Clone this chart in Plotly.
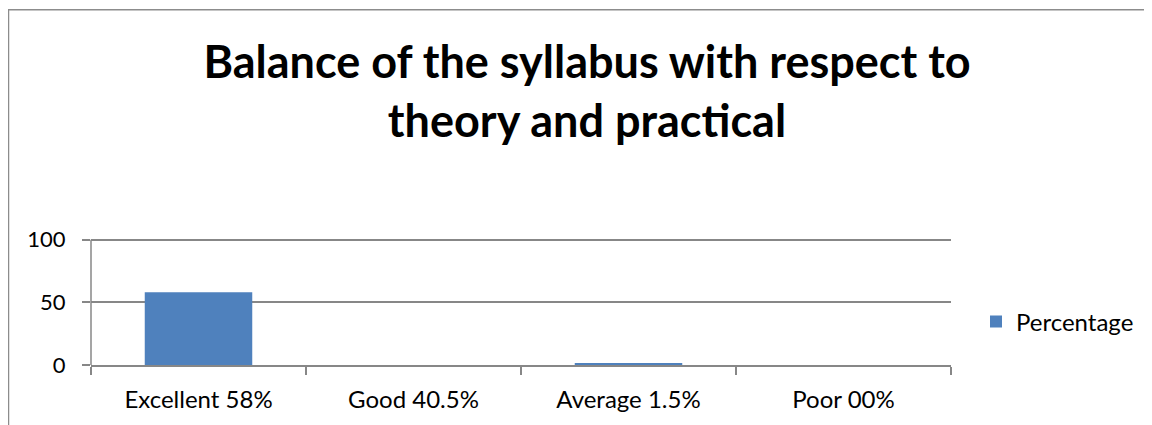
import plotly.graph_objects as go

categories = ["Excellent 58%", "Good 40.5%", "Average 1.5%", "Poor 00%"]
percentage = [58, 0, 1.5, 0]
series_name = "Percentage"
title_text = "Balance of the syllabus with respect to<br>theory and practical"
y_ticks = [0, 50, 100]
y_max = 103

OFF = 8  # page body margin
W, H = 1152 - OFF, 425 - OFF
# desired screen positions: x axis 91..951, y=0 at 365, y=100 at 240
SX0, SX1, SY1 = 91, 951, 365
SY0 = SY1 - 125 * y_max / 100
L, T = SX0 - OFF, SY0 - OFF
R, B = W - (SX1 - OFF), H - (SY1 - OFF)
pw, ph = W - L - R, H - T - B

def px(x):
    return (x - SX0) / pw

def py(y):
    return (SY1 - y) / ph

fig = go.Figure()
fig.add_trace(go.Bar(
    x=categories, y=percentage, name=series_name,
    marker=dict(color="#4F81BD", line=dict(width=0)),
))

grey = "#878787"
fig.update_layout(
    width=W, height=H,
    margin=dict(l=L, r=R, t=T, b=B),
    paper_bgcolor="white", plot_bgcolor="white",
    bargap=0.5,
    showlegend=True,
    font=dict(family="Lato", color="black"),
    title=dict(
        text=title_text,
        x=(587 - OFF) / W, xanchor="center", xref="container",
        y=1 - (78 - OFF) / H, yanchor="top", yref="container",
        font=dict(family="Lato", size=45, color="black", weight="bold"),
    ),
    legend=dict(
        x=px(976), xanchor="left", y=py(322), yanchor="middle",
        font=dict(family="Lato", size=24, color="black"),
        itemwidth=30, bgcolor="rgba(0,0,0,0)",
    ),
    xaxis=dict(
        showline=True, linecolor=grey, linewidth=1.5,
        ticks="outside", tickson="boundaries", ticklen=8, tickcolor=grey, tickwidth=1.5,
        tickfont=dict(family="Lato", size=24, color="black"),
        showgrid=False, ticklabelstandoff=12,
    ),
    yaxis=dict(
        range=[0, y_max], tickvals=y_ticks,
        showline=False,
        ticks="outside", ticklen=8, tickcolor=grey, tickwidth=1.5,
        showgrid=True, gridcolor=grey, gridwidth=1.5,
        zeroline=False,
        tickfont=dict(family="Lato", size=22, color="black"),
        ticklabelstandoff=12,
    ),
    shapes=[
        dict(
            type="rect", xref="paper", yref="paper",
            x0=px(8.5), x1=px(1200), y0=py(500), y1=py(10.5),
            line=dict(color="#8c8c8c", width=1.5), fillcolor="rgba(0,0,0,0)", layer="below",
        ),
        # y axis line from 0 to 100
        dict(
            type="line", xref="paper", yref="y",
            x0=0, x1=0, y0=0, y1=y_ticks[-1],
            line=dict(color=grey, width=1.5),
        ),
    ],
)

fig.write_html("out.html")
